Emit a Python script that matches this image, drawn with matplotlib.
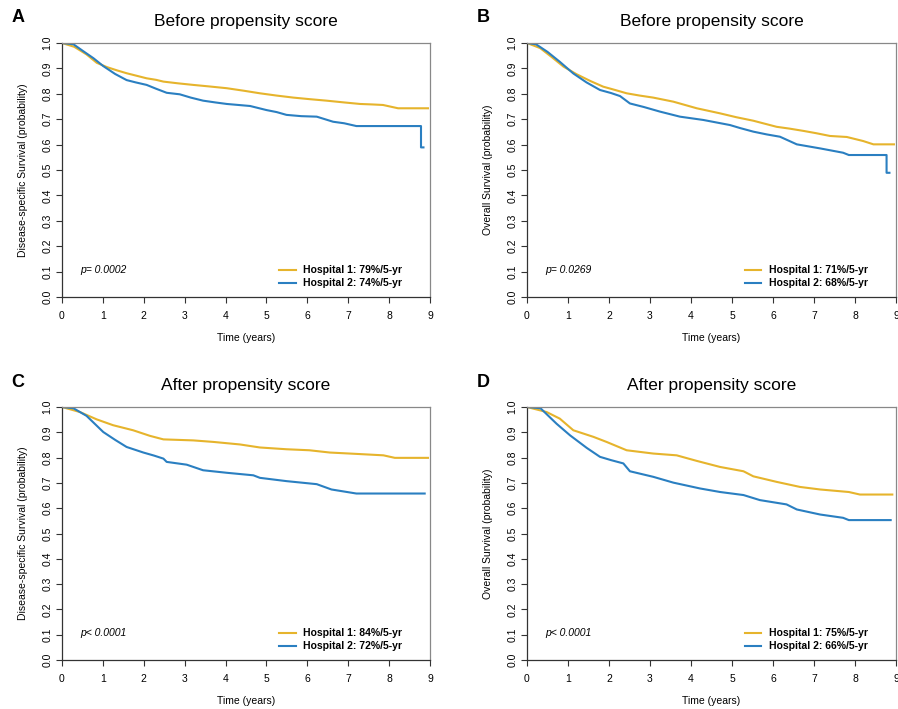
import matplotlib
matplotlib.use("Agg")
import matplotlib.pyplot as plt

# ---------------- data ----------------
# Panel A: Disease-specific survival, before propensity score
a_h1_t = [0, 0.30, 0.60, 0.85, 1.10, 1.35, 1.58, 1.85, 2.07, 2.30, 2.48, 2.85, 3.21, 3.60, 4.03, 4.45, 4.84, 5.25, 5.66, 6.05, 6.47, 6.90, 7.29, 7.60, 7.85, 8.22, 8.95]
a_h1_s = [1.0, 0.985, 0.955, 0.922, 0.905, 0.892, 0.881, 0.870, 0.861, 0.855, 0.848, 0.841, 0.835, 0.829, 0.822, 0.812, 0.802, 0.793, 0.785, 0.779, 0.773, 0.766, 0.760, 0.758, 0.756, 0.743, 0.743]
a_h2_t = [0, 0.28, 0.50, 0.77, 1.01, 1.30, 1.58, 1.80, 2.07, 2.30, 2.56, 2.88, 3.15, 3.45, 3.75, 4.03, 4.60, 5.00, 5.25, 5.49, 5.85, 6.23, 6.63, 6.90, 7.20, 8.78, 8.78, 8.84]
a_h2_s = [1.0, 0.995, 0.970, 0.940, 0.909, 0.878, 0.854, 0.845, 0.835, 0.820, 0.804, 0.798, 0.785, 0.773, 0.766, 0.760, 0.752, 0.736, 0.728, 0.717, 0.712, 0.710, 0.690, 0.684, 0.673, 0.673, 0.589, 0.589]

# Panel B: Overall survival, before propensity score
b_h1_t = [0, 0.32, 0.60, 0.89, 1.21, 1.55, 1.86, 2.15, 2.43, 2.75, 3.08, 3.57, 4.14, 4.71, 5.10, 5.52, 6.09, 6.40, 6.74, 7.05, 7.39, 7.80, 8.20, 8.45, 8.95]
b_h1_s = [1.0, 0.980, 0.945, 0.907, 0.877, 0.850, 0.828, 0.815, 0.802, 0.793, 0.785, 0.769, 0.743, 0.723, 0.708, 0.694, 0.670, 0.663, 0.654, 0.645, 0.634, 0.630, 0.614, 0.601, 0.601]
b_h2_t = [0, 0.22, 0.50, 0.80, 1.13, 1.45, 1.78, 2.05, 2.27, 2.51, 2.85, 3.24, 3.73, 4.30, 4.95, 5.20, 5.52, 5.85, 6.17, 6.58, 7.15, 7.71, 7.85, 8.77, 8.77, 8.84]
b_h2_s = [1.0, 0.995, 0.965, 0.926, 0.880, 0.845, 0.815, 0.803, 0.791, 0.762, 0.748, 0.730, 0.710, 0.697, 0.677, 0.665, 0.651, 0.640, 0.631, 0.601, 0.585, 0.568, 0.559, 0.559, 0.489, 0.489]

# Panel C: Disease-specific survival, after propensity score
c_h1_t = [0, 0.44, 0.85, 1.25, 1.74, 2.15, 2.48, 3.21, 3.70, 4.35, 4.84, 5.49, 6.05, 6.55, 7.04, 7.86, 8.14, 8.95]
c_h1_s = [1.0, 0.980, 0.951, 0.928, 0.908, 0.886, 0.872, 0.868, 0.862, 0.852, 0.840, 0.833, 0.829, 0.820, 0.816, 0.809, 0.799, 0.799]
c_h2_t = [0, 0.28, 0.60, 1.01, 1.30, 1.58, 1.99, 2.25, 2.48, 2.56, 3.05, 3.45, 4.03, 4.68, 4.84, 5.49, 6.23, 6.59, 7.20, 8.87]
c_h2_s = [1.0, 0.995, 0.965, 0.901, 0.870, 0.842, 0.820, 0.808, 0.796, 0.783, 0.772, 0.750, 0.740, 0.730, 0.720, 0.707, 0.695, 0.674, 0.658, 0.658]

# Panel D: Overall survival, after propensity score
d_h1_t = [0, 0.48, 0.80, 1.13, 1.62, 1.94, 2.43, 3.08, 3.65, 4.14, 4.71, 5.28, 5.52, 6.09, 6.66, 7.15, 7.85, 8.12, 8.91]
d_h1_s = [1.0, 0.980, 0.954, 0.908, 0.882, 0.862, 0.829, 0.816, 0.809, 0.787, 0.763, 0.746, 0.726, 0.704, 0.684, 0.674, 0.664, 0.654, 0.654]
d_h2_t = [0, 0.33, 0.72, 1.05, 1.46, 1.78, 2.05, 2.35, 2.51, 3.08, 3.57, 4.22, 4.71, 5.28, 5.68, 6.33, 6.58, 7.15, 7.71, 7.85, 8.87]
d_h2_s = [1.0, 0.995, 0.934, 0.888, 0.838, 0.803, 0.790, 0.777, 0.746, 0.724, 0.701, 0.678, 0.664, 0.652, 0.632, 0.615, 0.595, 0.575, 0.562, 0.553, 0.553]

panel_letters = ["A", "B", "C", "D"]
panel_titles = ["Before propensity score", "Before propensity score",
                "After propensity score", "After propensity score"]
y_labels = ["Disease-specific Survival (probability)", "Overall Survival (probability)",
            "Disease-specific Survival (probability)", "Overall Survival (probability)"]
p_texts = ["p= 0.0002", "p= 0.0269", "p< 0.0001", "p< 0.0001"]
legend_h1 = ["Hospital 1: 79%/5-yr", "Hospital 1: 71%/5-yr",
             "Hospital 1: 84%/5-yr", "Hospital 1: 75%/5-yr"]
legend_h2 = ["Hospital 2: 74%/5-yr", "Hospital 2: 68%/5-yr",
             "Hospital 2: 72%/5-yr", "Hospital 2: 66%/5-yr"]
x_ticks = [0, 1, 2, 3, 4, 5, 6, 7, 8, 9]
y_ticks = [0.0, 0.1, 0.2, 0.3, 0.4, 0.5, 0.6, 0.7, 0.8, 0.9, 1.0]

curves = [(a_h1_t, a_h1_s, a_h2_t, a_h2_s),
          (b_h1_t, b_h1_s, b_h2_t, b_h2_s),
          (c_h1_t, c_h1_s, c_h2_t, c_h2_s),
          (d_h1_t, d_h1_s, d_h2_t, d_h2_s)]

# ---------------- styling ----------------
col_h1 = "#E6B42C"
col_h2 = "#2A7FC1"
plt.rcParams["font.family"] = ["Liberation Sans", "DejaVu Sans"]

W, H = 898, 709
fig = plt.figure(figsize=(W / 100, H / 100), dpi=100)

# axes boxes in pixels: (left, top, right, bottom)
boxes = [(62, 43, 430, 297), (527, 43, 896, 297),
         (62, 407, 430, 660), (527, 407, 896, 660)]

for i, (l, t, r, b) in enumerate(boxes):
    ax = fig.add_axes([l / W, 1 - b / H, (r - l) / W, (b - t) / H])
    t1, s1, t2, s2 = curves[i]
    ax.plot(t1, s1, color=col_h1, lw=1.5)
    ax.plot(t2, s2, color=col_h2, lw=1.5)
    ax.set_xlim(0, 9)
    ax.set_ylim(0, 1)
    ax.set_xticks(x_ticks)
    ax.set_xticklabels([str(v) for v in x_ticks], fontsize=7.5)
    ax.set_yticks(y_ticks)
    ax.set_yticklabels(["%.1f" % v for v in y_ticks], fontsize=7.5, rotation=90, va="center")
    ax.tick_params(axis="both", direction="out", length=4, width=0.8, color="#333333", pad=3)
    ax.tick_params(axis="x", pad=6)
    for side in ["left", "bottom"]:
        ax.spines[side].set_color("#333333")
        ax.spines[side].set_linewidth(0.9)
    for side in ["top", "right"]:
        ax.spines[side].set_color("#888888")
        ax.spines[side].set_linewidth(0.9)
    ax.set_xlabel("Time (years)", fontsize=7.5, labelpad=9)
    ax.set_ylabel(y_labels[i], fontsize=7.5, labelpad=10)
    ax.set_title(panel_titles[i], fontsize=12.5, pad=12)
    ax.text(0.05, 0.105, p_texts[i], transform=ax.transAxes, fontsize=7.5,
            style="italic", va="center", ha="left")
    # legend (manual, matches R-style legend)
    for k, (lab, col) in enumerate([(legend_h1[i], col_h1), (legend_h2[i], col_h2)]):
        yy = 0.108 - k * 0.052
        ax.plot([0.59, 0.635], [yy, yy], transform=ax.transAxes, color=col, lw=1.5)
        ax.text(0.655, yy, lab, transform=ax.transAxes, fontsize=7.5,
                fontweight="bold", va="center", ha="left")
    fig.text((l - 44) / W, 1 - (t - 25) / H, panel_letters[i], fontsize=13,
             fontweight="bold", va="center", ha="center")

fig.savefig("out.png", dpi=100)
